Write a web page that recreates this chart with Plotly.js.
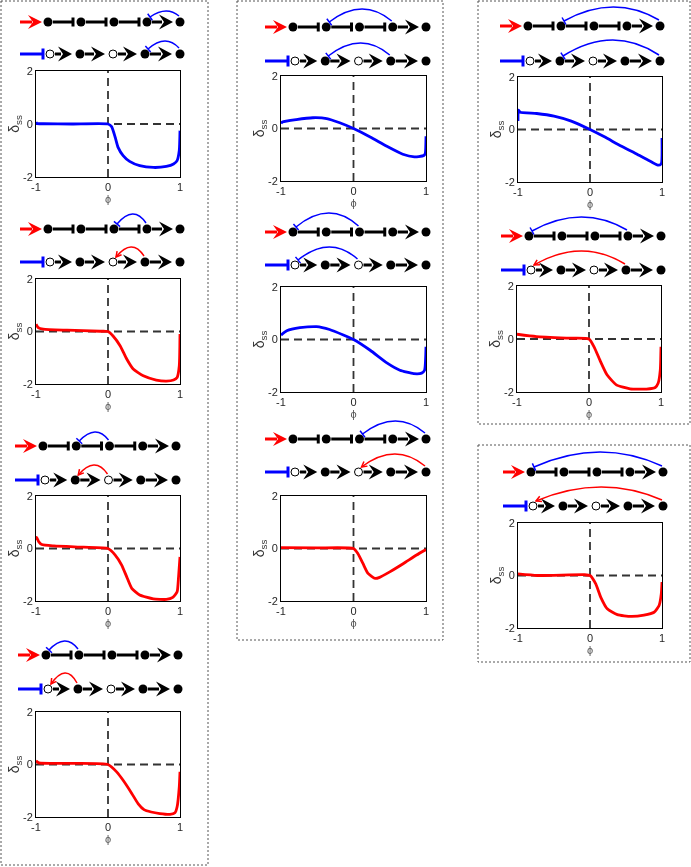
<!DOCTYPE html>
<html><head><meta charset="utf-8">
<script src="https://cdn.plot.ly/plotly-3.0.1.min.js"></script>
<style>html,body{margin:0;padding:0;background:#fff} #chart .main-svg text{filter:grayscale(1)}</style>
</head><body><div id="chart" style="width:691px;height:867px"></div>
<script>
// ---------------- data ----------------
const xTickVals = [-1, 0, 1];
const xTickText = ['-1', '0', '1'];
const yTickVals = [-2, 0, 2];
const yTickText = ['-2', '0', '2'];

const phiC1P1 = [-1, -0.99, -0.9, -0.5, 0, 0.05, 0.1, 0.14, 0.21, 0.30, 0.44, 0.63, 0.81, 0.91, 0.96, 0.99, 1.0];
const delC1P1 = [0.08, 0.02, 0.01, 0.0, 0.0, -0.1, -0.5, -0.88, -1.19, -1.41, -1.57, -1.64, -1.60, -1.51, -1.38, -1.0, -0.25];

const phiC1P2 = [-1, -0.97, -0.9, -0.57, -0.11, 0, 0.07, 0.17, 0.26, 0.35, 0.49, 0.67, 0.81, 0.91, 0.96, 0.99, 1.0];
const delC1P2 = [0.28, 0.15, 0.09, 0.05, 0.01, 0, -0.17, -0.55, -1.05, -1.43, -1.69, -1.85, -1.89, -1.85, -1.75, -1.31, -0.1];

const phiC1P3 = [-1, -0.99, -0.96, -0.92, -0.75, -0.34, 0, 0.1, 0.19, 0.26, 0.33, 0.44, 0.63, 0.81, 0.9, 0.96, 0.98, 1.0];
const delC1P3 = [0.32, 0.42, 0.25, 0.15, 0.10, 0.05, 0, -0.25, -0.63, -1.08, -1.52, -1.77, -1.92, -1.94, -1.86, -1.65, -1.08, -0.32];

const phiC1P4 = [-1, -0.96, -0.57, 0, 0.12, 0.21, 0.33, 0.42, 0.5, 0.6, 0.72, 0.86, 0.93, 0.96, 0.99, 1.0];
const delC1P4 = [0.14, 0.06, 0.04, 0, -0.28, -0.6, -1.1, -1.5, -1.72, -1.81, -1.87, -1.9, -1.84, -1.61, -0.85, -0.28];

const phiC2P1 = [-1, -0.98, -0.79, -0.56, -0.37, -0.19, 0, 0.23, 0.46, 0.68, 0.84, 0.9, 0.97, 0.99, 1.0];
const delC2P1 = [0.19, 0.25, 0.34, 0.41, 0.38, 0.22, 0, -0.32, -0.68, -0.98, -1.08, -1.07, -1.03, -0.95, -0.3];

const phiC2P2 = [-1, -0.92, -0.74, -0.51, -0.33, -0.14, 0, 0.23, 0.46, 0.64, 0.83, 0.94, 0.98, 1.0];
const delC2P2 = [0.17, 0.33, 0.45, 0.49, 0.38, 0.17, 0, -0.41, -0.89, -1.17, -1.30, -1.28, -1.17, -0.28];

const phiC2P3 = [-1, -0.5, 0, 0.06, 0.13, 0.2, 0.30, 0.36, 0.5, 0.69, 0.87, 1.0];
const delC2P3 = [0.03, 0.02, 0, -0.19, -0.57, -0.95, -1.14, -1.1, -0.89, -0.57, -0.25, -0.04];

const phiC3P1 = [-1, -0.995, -0.97, -0.74, -0.5, -0.26, 0, 0.2, 0.43, 0.66, 0.85, 0.95, 0.99, 1.0];
const delC3P1 = [0.32, 0.74, 0.66, 0.61, 0.51, 0.32, 0, -0.28, -0.63, -0.95, -1.23, -1.36, -1.3, -0.32];

const phiC3P2 = [-1, -0.73, -0.26, 0, 0.08, 0.15, 0.25, 0.38, 0.57, 0.8, 0.92, 0.96, 0.99, 1.0];
const delC3P2 = [0.18, 0.09, 0.03, 0, -0.35, -0.79, -1.35, -1.73, -1.88, -1.89, -1.83, -1.67, -1.17, -0.29];

const phiC3P3 = [-1, -0.73, -0.08, 0, 0.08, 0.15, 0.24, 0.38, 0.57, 0.75, 0.89, 0.96, 0.99, 1.0];
const delC3P3 = [0.06, 0.0, 0.03, 0, -0.32, -0.83, -1.27, -1.49, -1.56, -1.51, -1.40, -1.14, -0.70, -0.25];

// feedback arcs per panel: [row, fromNode, toNode, colour, kind]
const arcsC1P1 = [[1, 5, 4, 'b', 'T'], [2, 5, 4, 'b', 'T']];
const arcsC1P2 = [[1, 4, 3, 'b', 'T'], [2, 4, 3, 'r', 'A']];
const arcsC1P3 = [[1, 3, 2, 'b', 'T'], [2, 3, 2, 'r', 'A']];
const arcsC1P4 = [[1, 2, 1, 'b', 'T'], [2, 2, 1, 'r', 'A']];
const arcsC2P1 = [[1, 4, 2, 'b', 'T'], [2, 4, 2, 'b', 'T']];
const arcsC2P2 = [[1, 3, 1, 'b', 'T'], [2, 3, 1, 'b', 'T']];
const arcsC2P3 = [[1, 5, 3, 'b', 'T'], [2, 5, 3, 'r', 'A']];
const arcsC3P1 = [[1, 5, 2, 'b', 'T'], [2, 5, 2, 'b', 'T']];
const arcsC3P2 = [[1, 4, 1, 'b', 'T'], [2, 4, 1, 'r', 'A']];
const arcsC3P3 = [[1, 5, 1, 'b', 'T'], [2, 5, 1, 'r', 'A']];

// ---------------- layout geometry (pixels) ----------------
const W = 691, H = 867;
const RED = '#ff0000', BLUE = '#0000ff', TXT = '#262626';
const panels = [
  {box: [36, 180, 71, 177], n: [48, 180], rows: [22, 54], col: BLUE, phi: phiC1P1, del: delC1P1, arcs: arcsC1P1, peaks: [11, 13]},
  {box: [36, 180, 279, 384], n: [48, 180], rows: [229, 262], col: RED, phi: phiC1P2, del: delC1P2, arcs: arcsC1P2, peaks: [15, 15]},
  {box: [36, 180, 496, 601], n: [43, 176], rows: [446, 480], col: RED, phi: phiC1P3, del: delC1P3, arcs: arcsC1P3, peaks: [14, 15]},
  {box: [36, 180, 712, 817], n: [46, 178], rows: [655, 689], col: RED, phi: phiC1P4, del: delC1P4, arcs: arcsC1P4, peaks: [14, 16]},
  {box: [281, 426, 76, 181], n: [293, 426], rows: [27, 61], col: BLUE, phi: phiC2P1, del: delC2P1, arcs: arcsC2P1, peaks: [18, 18]},
  {box: [281, 426, 287, 392], n: [293, 426], rows: [232, 265], col: BLUE, phi: phiC2P2, del: delC2P2, arcs: arcsC2P2, peaks: [19, 18]},
  {box: [281, 426, 496, 601], n: [293, 426], rows: [439, 472], col: RED, phi: phiC2P3, del: delC2P3, arcs: arcsC2P3, peaks: [18, 18]},
  {box: [518, 662, 77, 182], n: [528, 660], rows: [26, 61], col: BLUE, phi: phiC3P1, del: delC3P1, arcs: arcsC3P1, peaks: [19, 21]},
  {box: [517, 661, 286, 392], n: [529, 661], rows: [236, 270], col: RED, phi: phiC3P2, del: delC3P2, arcs: arcsC3P2, peaks: [19, 19]},
  {box: [518, 662, 523, 628], n: [531, 663], rows: [472, 506], col: RED, phi: phiC3P3, del: delC3P3, arcs: arcsC3P3, peaks: [20, 19]}
];
const frames = [[1, 1, 208, 865], [237, 1, 443, 640], [478, 1, 690, 424], [478, 445, 690, 662]];

// ---------------- build ----------------
const traces = [], shapes = [];
const layout = {
  width: W, height: H, autosize: false,
  margin: {l: 0, r: 0, t: 0, b: 0, pad: 0},
  paper_bgcolor: '#fff', plot_bgcolor: 'rgba(0,0,0,0)',
  showlegend: false,
  font: {family: 'Liberation Sans, Arial, sans-serif', color: TXT}
};
const OV = 11;
layout['xaxis' + OV] = {domain: [0, 1], range: [0, W], visible: false, fixedrange: true, anchor: 'y' + OV};
layout['yaxis' + OV] = {domain: [0, 1], range: [H, 0], visible: false, fixedrange: true, anchor: 'x' + OV};

function L(x0, y0, x1, y1, color, w) {
  shapes.push({type: 'line', xref: 'x' + OV, yref: 'y' + OV, x0, y0, x1, y1, line: {color, width: w}});
}
function P(path, color, fill, w) {
  shapes.push({type: 'path', xref: 'x' + OV, yref: 'y' + OV, path,
    line: {color, width: w || 0}, fillcolor: fill || 'rgba(0,0,0,0)'});
}
function head(tip, y, color, len, half) {
  len = len || 14; half = half || 7.5;
  P(`M${tip},${y} L${tip - len},${y - half} L${tip - len + 5},${y} L${tip - len},${y + half} Z`, color, color, 0);
}

const dotX = [], dotY = [], openX = [], openY = [];

panels.forEach((p, k) => {
  const i = k + 1;
  const [l, r, t, b] = p.box;
  layout['xaxis' + i] = {
    domain: [l / W, r / W], range: [-1, 1], anchor: 'y' + i, color: TXT,
    tickvals: xTickVals, ticktext: xTickText, ticks: '',
    showline: true, mirror: true, linecolor: '#000', linewidth: 1,
    showgrid: false, zeroline: false, fixedrange: true,
    tickfont: {size: 11, color: TXT},
    title: {text: 'ϕ', font: {size: 11, color: '#555'}, standoff: 2}
  };
  layout['yaxis' + i] = {
    domain: [1 - b / H, 1 - t / H], range: [-2, 2], anchor: 'x' + i, color: TXT,
    tickvals: yTickVals, ticktext: yTickText, ticks: '',
    showline: true, mirror: true, linecolor: '#000', linewidth: 1,
    showgrid: false, zeroline: false, fixedrange: true,
    tickfont: {size: 11, color: TXT},
    title: {text: 'δ<sub>ss</sub>', font: {size: 14, color: '#333'}, standoff: 0}
  };
  traces.push({x: p.phi, y: p.del, xaxis: 'x' + i, yaxis: 'y' + i, mode: 'lines',
    line: {color: p.col, width: 2.8, shape: 'spline', smoothing: 0.5}, hoverinfo: 'skip'});
  const dash = {color: '#333', width: 1.8, dash: '8px,5px'};
  shapes.push({type: 'line', xref: 'x' + i, yref: 'y' + i, x0: -1, x1: 1, y0: 0, y1: 0, line: dash, layer: 'below'});
  shapes.push({type: 'line', xref: 'x' + i, yref: 'y' + i, x0: 0, x1: 0, y0: -2, y1: 2, line: dash, layer: 'below'});

  // network diagram
  const n1 = p.n[0], n5 = p.n[1], sp = (n5 - n1) / 4;
  const nx1 = [0, 1, 2, 3, 4].map(j => n1 + j * sp);
  const nx2 = [n1 + 2, n1 + sp - 1, n1 + 2 * sp - 1, n1 + 3 * sp - 2, n5];
  const y1 = p.rows[0], y2 = p.rows[1];
  // row 1: red input arrow, -| -| -| ->
  L(n1 - 28, y1, n1 - 16, y1, RED, 3);
  head(n1 - 6, y1, RED, 14, 7);
  for (let j = 0; j < 3; j++) {
    L(nx1[j] + 5, y1, nx1[j + 1] - 8, y1, '#000', 3);
    L(nx1[j + 1] - 8, y1 - 4.5, nx1[j + 1] - 8, y1 + 4.5, '#000', 3);
  }
  L(nx1[3] + 5, y1, nx1[4] - 18, y1, '#000', 3);
  head(nx1[4] - 7, y1, '#000');
  nx1.forEach(x => { dotX.push(x); dotY.push(y1); });
  // row 2: blue inhibitory input, all activating arrows
  L(n1 - 28, y2, n1 - 5, y2, BLUE, 3);
  L(n1 - 5, y2 - 5.5, n1 - 5, y2 + 5.5, BLUE, 3);
  for (let j = 0; j < 4; j++) {
    L(nx2[j] + 5, y2, nx2[j + 1] - 19, y2, '#000', 3);
    head(nx2[j + 1] - 8, y2, '#000');
  }
  nx2.forEach((x, j) => {
    if (j === 0 || j === 2) { openX.push(x); openY.push(y2); }
    else { dotX.push(x); dotY.push(y2); }
  });
  // feedback arcs
  p.arcs.forEach(a => {
    const row = a[0], xsArr = row === 1 ? nx1 : nx2, yr = row === 1 ? y1 : y2;
    const peak = p.peaks[row - 1];
    const color = a[3] === 'r' ? RED : BLUE;
    const sx = xsArr[a[1] - 1] - 1, ex = xsArr[a[2] - 1] + 3;
    const ys = yr - 6, ye = yr - 5;
    const cx = (sx + ex) / 2 + 2, cy = 2 * (yr - peak) - (ys + ye) / 2;
    P(`M${sx},${ys} Q${cx},${cy} ${ex},${ye}`, color, null, 1.5);
    let tx = ex - cx, ty = ye - cy; const len = Math.hypot(tx, ty); tx /= len; ty /= len;
    if (a[4] === 'T') {
      L(ex - 4 * ty, ye + 4 * tx, ex + 4 * ty, ye - 4 * tx, color, 1.5);
    } else {
      const ang = 0.5, hl = 6;
      const c = Math.cos(ang), s = Math.sin(ang);
      const ax = -(tx * c - ty * s), ay = -(tx * s + ty * c);
      const bx = -(tx * c + ty * s), by = -(-tx * s + ty * c);
      P(`M${ex + hl * ax},${ye + hl * ay} L${ex},${ye} L${ex + hl * bx},${ye + hl * by}`, color, null, 1.5);
    }
  });
});

traces.push({x: dotX, y: dotY, xaxis: 'x' + OV, yaxis: 'y' + OV, mode: 'markers',
  marker: {size: 9, color: '#000'}, hoverinfo: 'skip'});
traces.push({x: openX, y: openY, xaxis: 'x' + OV, yaxis: 'y' + OV, mode: 'markers',
  marker: {size: 8, color: '#fff', line: {color: '#000', width: 1}}, hoverinfo: 'skip'});

frames.forEach(f => {
  shapes.push({type: 'rect', xref: 'x' + OV, yref: 'y' + OV, x0: f[0], y0: f[1], x1: f[2], y1: f[3],
    line: {color: '#555', width: 1, dash: '2px,2px'}, fillcolor: 'rgba(0,0,0,0)'});
});

layout.shapes = shapes;
Plotly.newPlot('chart', traces, layout, {staticPlot: true, displayModeBar: false});
</script></body></html>
